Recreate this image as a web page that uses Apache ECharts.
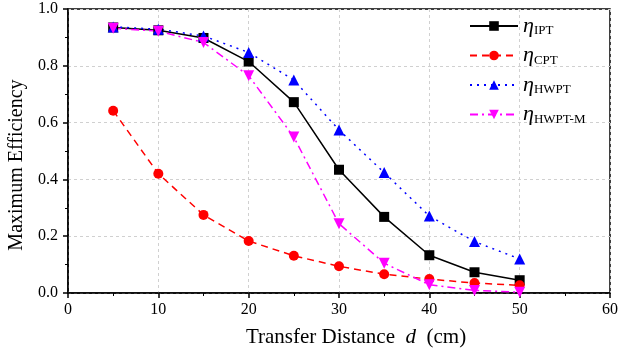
<!DOCTYPE html>
<html><head><meta charset="utf-8">
<script src="https://cdn.jsdelivr.net/npm/echarts@6/dist/echarts.min.js"></script>
<style>html,body{margin:0;padding:0;background:#fff}#c{width:618px;height:354px}</style>
</head><body><div id="c"></div>
<script>
const distances = [5,10,15,20,25,30,35,40,45,50];
const etaIPT   = [0.935,0.925,0.898,0.815,0.672,0.434,0.268,0.133,0.073,0.045];
const etaCPT   = [0.642,0.420,0.275,0.183,0.131,0.094,0.066,0.049,0.035,0.027];
const etaHWPT  = [0.937,0.929,0.905,0.847,0.750,0.574,0.424,0.271,0.181,0.120];
const etaHWPTM = [0.932,0.922,0.882,0.765,0.549,0.244,0.105,0.029,0.009,0.003];
const seriesNames = ['IPT','CPT','HWPT','HWPT-M'];
const xTicks = [0,10,20,30,40,50,60];
const yTicks = [0,0.2,0.4,0.6,0.8,1.0];

const font = '"Liberation Serif","Times New Roman",serif';
const chart = echarts.init(document.getElementById('c'));
function pairs(v){return distances.map((d,i)=>[d,v[i]]);}
function mk(name, data, color, sym, rot, dash, size){
  return {name, type:'line', data:pairs(data), symbol:sym, symbolRotate:rot, symbolSize:size,
    itemStyle:{color}, lineStyle:{color, width:1.5, type:dash}, z:3, animation:false};
}
const axisLine = {show:true,lineStyle:{color:'#000',width:1.5}};
const axisTick = {show:true,inside:false,length:5,lineStyle:{color:'#000',width:1.5}};
const minorTick = {show:true,splitNumber:2,length:3,lineStyle:{color:'#000',width:1}};
const splitLine = {show:true,lineStyle:{color:'#d0d0d0',type:[3,3],width:1}};
chart.setOption({
  backgroundColor:'#fff',
  animation:false,
  grid:{left:68,right:8,top:9,bottom:61,show:true,borderColor:'#000',borderWidth:1.5,outerBoundsMode:'none',containLabel:false},
  xAxis:{type:'value',min:0,max:60,interval:10,
    axisLine, axisTick, minorTick, splitLine,
    name:'Transfer Distance  {i|d}  (cm)',nameLocation:'middle',nameGap:34,
    nameTextStyle:{color:'#000',fontFamily:font,fontSize:21,padding:[0,0,0,34],rich:{i:{fontStyle:'italic',fontFamily:font,fontSize:21,color:'#000'}}},
    axisLabel:{color:'#000',fontFamily:font,fontSize:16,margin:9,formatter:v=>xTicks.includes(v)?String(v):''}
  },
  yAxis:{type:'value',min:0,max:1,interval:0.2,
    axisLine, axisTick, minorTick, splitLine,
    name:'Maximum Efficiency',nameLocation:'middle',nameGap:40,
    nameTextStyle:{color:'#000',fontFamily:font,fontSize:20,padding:[0,28,0,0]},
    axisLabel:{color:'#000',fontFamily:font,fontSize:16,margin:10,formatter:v=>yTicks.find(t=>Math.abs(t-v)<1e-9)!==undefined?v.toFixed(1):''}
  },
  legend:{
    orient:'vertical',left:464,top:10,itemWidth:48,itemHeight:12,itemGap:7,
    data:seriesNames,
    formatter:n=>'{e|η}{s|'+n+'}',
    textStyle:{color:'#000',fontFamily:font,fontSize:18,
      rich:{e:{fontStyle:'italic',fontFamily:font,fontSize:22,color:'#000'},
            s:{fontFamily:font,fontSize:13,color:'#000',verticalAlign:'bottom',padding:[10,0,0,0]}}}
  },
  series:[
    mk('IPT',etaIPT,'#000000','rect',0,'solid',10),
    mk('CPT',etaCPT,'#ff0000','circle',0,[7,5],10),
    mk('HWPT',etaHWPT,'#0000ff','triangle',0,[2,5],11),
    mk('HWPT-M',etaHWPTM,'#ff00ff','triangle',180,[8,4,2,4],11)
  ]
});
</script></body></html>
